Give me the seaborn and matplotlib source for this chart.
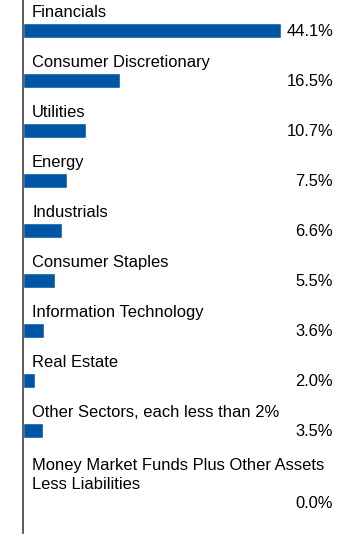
import matplotlib
matplotlib.use("Agg")
import matplotlib.pyplot as plt
import seaborn as sns
import pandas as pd

# 数据
sectors = [
	"Financials",
	"Consumer Discretionary",
	"Utilities",
	"Energy",
	"Industrials",
	"Consumer Staples",
	"Information Technology",
	"Real Estate",
	"Other Sectors, each less than 2%",
	"Money Market Funds Plus Other Assets\nLess Liabilities",
]
weights = [44.1, 16.5, 10.7, 7.5, 6.6, 5.5, 3.6, 2.0, 3.5, 0.0]

sns.set_style("white")
plt.rcParams['font.family'] = ['Liberation Sans', 'DejaVu Sans']

df = pd.DataFrame({"sector": sectors, "weight": weights})

fig = plt.figure(figsize=(3.6, 5.37), dpi=100)
ax = fig.add_axes([23 / 360, 4 / 537, 337 / 360, 533 / 537])

sns.barplot(data=df, x="weight", y="sector", color="#0055A5", width=0.3,
			saturation=1, ax=ax, orient="h")

ax.set_xlim(0, 337 / 5.85)
ax.set_ylim(10.06, -0.6)

for i, (name, w) in enumerate(zip(sectors, weights)):
	extra = 0.44 * name.count("\n")
	ax.text(0.027, i - 0.2 + extra, name, transform=ax.get_yaxis_transform(),
			ha="left", va="bottom", fontsize=11.9, color="black", linespacing=1.35)
	ax.text(0.92, i + 0.04 + extra, f"{w:.1f}%", transform=ax.get_yaxis_transform(),
			ha="right", va="center", fontsize=11.9, color="black")

ax.set_xlabel("")
ax.set_ylabel("")
ax.set_xticks([])
ax.set_yticks([])
for side in ["top", "right", "bottom"]:
	ax.spines[side].set_visible(False)
ax.spines["left"].set_color("#404040")
ax.spines["left"].set_linewidth(1.2)

fig.savefig("out.png", dpi=100)
